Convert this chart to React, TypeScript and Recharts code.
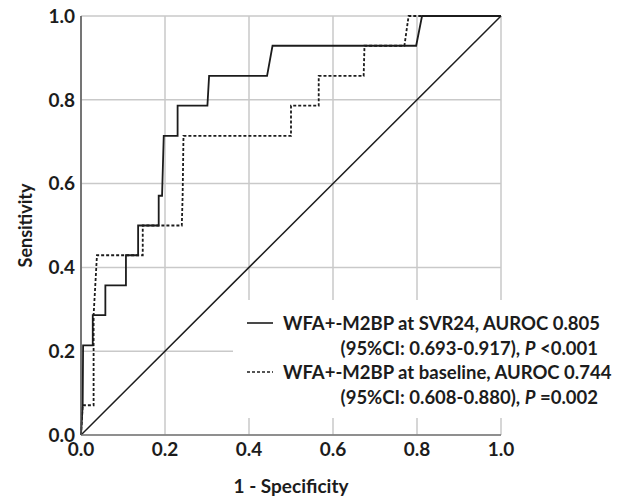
import { CartesianGrid, Legend, Line, LineChart, XAxis, YAxis } from "recharts";

// ROC, WFA+-M2BP at SVR24 (solid)
const svrFpr = [0, 0.004, 0.005, 0.028, 0.028, 0.058, 0.058, 0.107, 0.107, 0.136, 0.136, 0.185, 0.185, 0.193, 0.197, 0.23, 0.23, 0.301, 0.305, 0.443, 0.456, 0.798, 0.812, 1.0];
const svrTpr = [0, 0.071, 0.214, 0.214, 0.286, 0.286, 0.357, 0.357, 0.429, 0.429, 0.5, 0.5, 0.571, 0.571, 0.714, 0.714, 0.786, 0.786, 0.857, 0.857, 0.929, 0.929, 1.0, 1.0];

// ROC, WFA+-M2BP at baseline (dashed)
const baseFpr = [0, 0.004, 0.03, 0.03, 0.034, 0.038, 0.147, 0.147, 0.24, 0.242, 0.244, 0.5, 0.5, 0.566, 0.566, 0.673, 0.675, 0.77, 0.78, 1.0];
const baseTpr = [0, 0.071, 0.071, 0.286, 0.357, 0.429, 0.429, 0.5, 0.5, 0.571, 0.714, 0.714, 0.786, 0.786, 0.857, 0.857, 0.929, 0.929, 1.0, 1.0];

const refFpr = [0, 1];
const refTpr = [0, 1];

const ticks = [0, 0.2, 0.4, 0.6, 0.8, 1.0];

const legendNames = ["WFA+-M2BP at SVR24, AUROC 0.805", "WFA+-M2BP at baseline, AUROC 0.744"];
const legendCi = ["(95%CI: 0.693-0.917), ", "(95%CI: 0.608-0.880), "];
const legendP = ["<0.001", "=0.002"];
const legendDash = ["0", "3 2"];

const toPoints = (xs: number[], ys: number[]) => xs.map((x, i) => ({ x, y: ys[i] }));

const svrData = toPoints(svrFpr, svrTpr);
const baseData = toPoints(baseFpr, baseTpr);
const refData = toPoints(refFpr, refTpr);

const font = "Lato, 'DejaVu Sans', sans-serif";
const ink = "#1c1c1c";

function RocLegend() {
  return (
    <svg width={392} height={118} style={{ display: "block" }}>
      {legendNames.map((name, i) => {
        const y = 23 + i * 49;
        return (
          <g key={name} fontFamily={font} fontWeight={700} fontSize={18.5} fill={ink}>
            <line x1={14} x2={40} y1={y} y2={y} stroke={ink} strokeWidth={1.6} strokeDasharray={legendDash[i]} />
            <text x={50} y={y + 6.5}>{name}</text>
            <text x={365} y={y + 31.5} textAnchor="end">
              {legendCi[i]}
              <tspan fontStyle="italic">P</tspan>
              {" " + legendP[i]}
            </text>
          </g>
        );
      })}
    </svg>
  );
}

export default function App() {
  return (
    <div style={{ position: "absolute", left: 0, top: 0, background: "#fff" }}>
      <LineChart width={629} height={498} margin={{ top: 16, right: 128, bottom: 0, left: 0 }}>
        <CartesianGrid stroke="#c9c9c9" strokeWidth={1.5} />
        <XAxis
          type="number"
          dataKey="x"
          domain={[0, 1]}
          ticks={ticks}
          tickFormatter={(v: number) => v.toFixed(1)}
          height={63}
          tickLine={false}
          axisLine={{ stroke: "#777", strokeWidth: 1.5 }}
          tick={{ fontFamily: font, fontWeight: 700, fontSize: 19, fill: ink }}
          label={{
            value: "1 - Specificity",
            position: "insideBottom",
            offset: 5,
            style: { fontFamily: font, fontWeight: 700, fontSize: 19, fill: ink },
          }}
        />
        <YAxis
          type="number"
          dataKey="y"
          domain={[0, 1]}
          ticks={ticks}
          tickFormatter={(v: number) => v.toFixed(1)}
          width={81}
          tickLine={false}
          tickMargin={0}
          axisLine={{ stroke: "#555", strokeWidth: 1.5 }}
          tick={{ fontFamily: font, fontWeight: 700, fontSize: 19, fill: ink }}
          label={{
            value: "Sensitivity",
            angle: -90,
            position: "insideLeft",
            offset: 26,
            style: { textAnchor: "middle", fontFamily: font, fontWeight: 700, fontSize: 18, fill: ink },
          }}
        />
        <Legend
          layout="horizontal"
          verticalAlign="middle"
          align="center"
          content={() => <RocLegend />}
          wrapperStyle={{ left: 233, top: 300, width: 392, height: 118, background: "#fff" }}
        />
        <Line data={refData} dataKey="y" legendType="none" stroke={ink} strokeWidth={1.5} dot={false} type="linear" isAnimationActive={false} />
        <Line data={baseData} dataKey="y" name={legendNames[1]} stroke={ink} strokeWidth={1.8} strokeDasharray="3 2" dot={false} type="linear" isAnimationActive={false} />
        <Line data={svrData} dataKey="y" name={legendNames[0]} stroke={ink} strokeWidth={1.8} dot={false} type="linear" isAnimationActive={false} />
      </LineChart>
    </div>
  );
}
